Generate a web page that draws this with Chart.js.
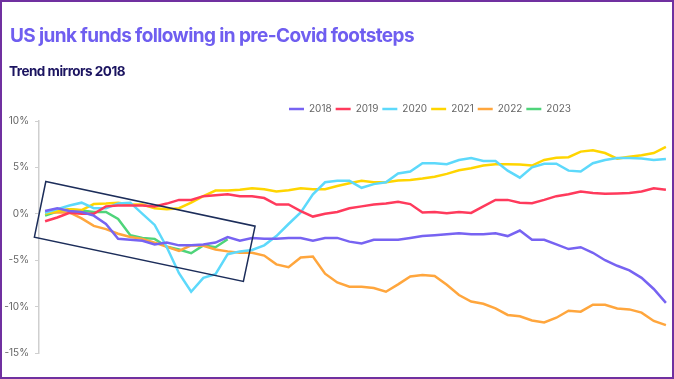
<!DOCTYPE html>
<html>
<head>
<meta charset="utf-8">
<script src="https://cdn.jsdelivr.net/npm/chart.js@4.4.1/dist/chart.umd.min.js"></script>
<style>
  html, body { margin: 0; padding: 0; background: #fff; }
  #frame { position: relative; width: 674px; height: 379px; overflow: hidden; font-family: Inter, sans-serif; }
  #frame::after { content: ''; position: absolute; inset: 0; border: 2px solid #7030a0; pointer-events: none; }
  h1 { position: absolute; left: 10px; top: 23px; margin: 0; font-size: 19px; line-height: 26px; font-weight: 700; letter-spacing: -0.6px; color: #6f5ef0; white-space: nowrap; }
  h2 { position: absolute; left: 9px; top: 61px; margin: 0; font-size: 13.5px; line-height: 20px; font-weight: 700; letter-spacing: -0.5px; color: #1b1460; white-space: nowrap; }
  #wrap { position: absolute; left: 0; top: 0; width: 674px; height: 379px; }
</style>
</head>
<body>
<div id="frame">
  <div id="wrap"><canvas id="chart"></canvas></div>
  <h1>US junk funds following in pre-Covid footsteps</h1>
  <h2>Trend mirrors 2018</h2>
</div>
<script>
// weekly returns, % change since start of year
const weeks = Array.from({ length: 52 }, (_, i) => 'W' + (i + 1));
const years = ['2018', '2019', '2020', '2021', '2022', '2023'];
const colors = ['#7763f2', '#ff3a5c', '#5dd9fb', '#ffd500', '#ffa63d', '#4fd47a'];
const yTicks = [-15, -10, -5, 0, 5, 10];

const y2018 = [0.3, 0.6, 0.3, 0.2, -0.2, -1.1, -2.7, -2.8, -2.9, -3.3, -3.1, -3.4, -3.4, -3.3, -3.1, -2.5, -2.9, -2.6, -2.7, -2.7,
  -2.6, -2.6, -2.9, -2.6, -2.6, -3.0, -3.2, -2.8, -2.8, -2.8, -2.6, -2.4, -2.3, -2.2, -2.1, -2.2, -2.2, -2.1, -2.4, -1.8,
  -2.8, -2.8, -3.3, -3.8, -3.6, -4.2, -5.0, -5.6, -6.1, -6.9, -8.1, -9.6];
const y2019 = [-0.8, -0.4, 0.1, 0.0, 0.0, 0.8, 0.9, 0.9, 0.9, 0.8, 1.1, 1.5, 1.5, 1.9, 2.0, 2.1, 1.9, 1.9, 1.7, 1.0,
  1.0, 0.3, -0.3, 0.0, 0.2, 0.6, 0.8, 1.0, 1.1, 1.3, 1.05, 0.15, 0.2, 0.05, 0.2, 0.1, 0.8, 1.5, 1.5, 1.2,
  1.15, 1.5, 1.9, 2.1, 2.4, 2.25, 2.15, 2.2, 2.25, 2.4, 2.75, 2.6];
const y2020 = [0.1, 0.5, 0.9, 1.2, 0.6, 0.6, 1.1, 1.2, 0.0, -1.2, -3.6, -6.4, -8.4, -6.9, -6.5, -4.35, -4.05, -3.9, -3.4, -2.4,
  -1.1, 0.15, 2.1, 3.4, 3.55, 3.55, 2.8, 3.2, 3.4, 4.35, 4.55, 5.45, 5.45, 5.35, 5.8, 6.0, 5.7, 5.7, 4.65, 3.9,
  5.0, 5.4, 5.4, 4.65, 4.55, 5.45, 5.8, 6.0, 6.0, 5.95, 5.8, 5.9];
const y2021 = [0.0, 0.3, 0.5, 0.4, 1.05, 1.1, 1.2, 1.0, 1.0, 0.6, 0.5, 0.6, 1.2, 1.9, 2.5, 2.5, 2.6, 2.75, 2.65, 2.4,
  2.55, 2.75, 2.65, 2.65, 3.0, 3.3, 3.55, 3.4, 3.4, 3.6, 3.65, 3.8, 4.0, 4.3, 4.7, 4.9, 5.2, 5.35, 5.35, 5.3,
  5.2, 5.8, 6.05, 6.1, 6.7, 6.85, 6.55, 5.95, 6.15, 6.3, 6.55, 7.2];
const y2022 = [0.15, 0.15, 0.15, -0.5, -1.3, -1.65, -2.15, -2.5, -2.7, -3.1, -3.55, -4.0, -3.4, -3.45, -3.85, -4.05, -4.2, -4.2, -4.5, -5.45,
  -5.75, -4.7, -4.6, -6.45, -7.4, -7.85, -7.85, -8.0, -8.4, -7.6, -6.75, -6.6, -6.7, -7.65, -8.75, -9.45, -9.7, -10.2, -10.9, -11.05,
  -11.5, -11.7, -11.2, -10.45, -10.55, -9.8, -9.8, -10.2, -10.3, -10.65, -11.55, -12.0];
const y2023 = [-0.2, 0.25, 0.5, 0.35, 0.2, 0.2, -0.55, -2.3, -2.6, -2.7, -3.55, -3.85, -4.25, -3.4, -3.6, -2.75];

const series = [y2018, y2019, y2020, y2021, y2022, y2023];

// tilted box highlighting the early-year pattern, corners as [week index, %]
const boxCorners = [[0.06, 3.48], [17.25, -1.33], [16.29, -7.29], [-0.88, -2.52]];

const highlightBox = {
  id: 'highlightBox',
  afterDatasetsDraw(chart) {
    const { ctx, scales: { x, y } } = chart;
    ctx.save();
    ctx.beginPath();
    boxCorners.forEach(([i, v], k) => {
      const px = x.getPixelForValue(i), py = y.getPixelForValue(v);
      if (k === 0) ctx.moveTo(px, py); else ctx.lineTo(px, py);
    });
    ctx.closePath();
    ctx.strokeStyle = '#1c2d5a';
    ctx.lineWidth = 1.5;
    ctx.stroke();
    ctx.restore();
  }
};

// legend sits right of centre and a little lower in the original
const legendShift = {
  id: 'legendShift',
  afterLayout(chart) {
    const lg = chart.legend;
    const dx = 430 - (lg.left + lg.right) / 2;
    lg.left += dx;
    lg.right += dx;
    lg.top += 3;
    lg.bottom += 3;
  }
};

new Chart(document.getElementById('chart'), {
  type: 'line',
  data: {
    labels: weeks,
    datasets: years.map((yr, k) => ({
      label: yr,
      data: series[k],
      borderColor: colors[k],
      backgroundColor: colors[k],
      borderWidth: 2.5,
      pointRadius: 0,
      tension: 0,
      fill: false
    }))
  },
  options: {
    responsive: true,
    maintainAspectRatio: false,
    animation: false,
    layout: { padding: { top: 97, bottom: 26, left: 0, right: 2 } },
    plugins: {
      legend: {
        position: 'top',
        labels: {
          usePointStyle: true,
          pointStyle: 'line',
          pointStyleWidth: 15,
          padding: 4,
          color: '#666',
          font: { family: 'Inter', size: 10 }
        }
      },
      tooltip: { enabled: false }
    },
    scales: {
      x: { display: false, offset: true },
      y: {
        min: -15,
        max: 10,
        afterFit(scale) { scale.width = 39; },
        afterBuildTicks(scale) { scale.ticks = yTicks.map(v => ({ value: v })); },
        border: { display: true, color: '#cfcfcf', width: 1.5 },
        grid: { drawOnChartArea: false, tickLength: 4, color: '#cfcfcf' },
        ticks: {
          padding: 6,
          color: '#666',
          font: { family: 'Inter', size: 10 },
          callback: v => v + '%'
        }
      }
    }
  },
  plugins: [highlightBox, legendShift]
});
</script>
</body>
</html>
